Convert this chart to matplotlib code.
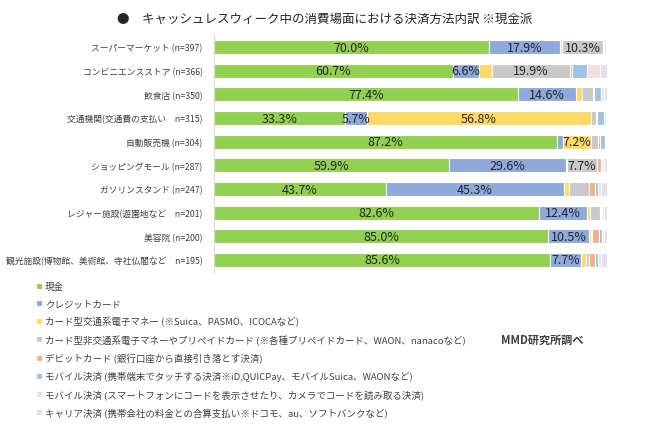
import matplotlib
matplotlib.use('Agg')
import matplotlib.pyplot as plt
import numpy as np

plt.rcParams['font.family'] = ['Noto Sans CJK JP', 'DejaVu Sans']

# categories (top to bottom)
places = ['スーパーマーケット (n=397)', 'コンビニエンスストア (n=366)', '飲食店 (n=350)',
          '交通機関(交通費の支払い　n=315)', '自動販売機 (n=304)', 'ショッピングモール (n=287)',
          'ガソリンスタンド (n=247)', 'レジャー施設(遊園地など　n=201)', '美容院 (n=200)',
          '観光施設(博物館、美術館、寺社仏閣など　n=195)']

methods = ['現金', 'クレジットカード', 'カード型交通系電子マネー (※Suica、PASMO、ICOCAなど)',
           'カード型非交通系電子マネーやプリペイドカード (※各種プリペイドカード、WAON、nanacoなど)',
           'デビットカード (銀行口座から直接引き落とす決済)',
           'モバイル決済 (携帯端末でタッチする決済※iD,QUICPay、モバイルSuica、WAONなど)',
           'モバイル決済 (スマートフォンにコードを表示させたり、カメラでコードを読み取る決済)',
           'キャリア決済 (携帯会社の料金との合算支払い※ドコモ、au、ソフトバンクなど)']

cash    = [70.0, 60.7, 77.4, 33.3, 87.2, 59.9, 43.7, 82.6, 85.0, 85.6]
credit  = [17.9, 6.6, 14.6, 5.7, 1.5, 29.6, 45.3, 12.4, 10.5, 7.7]
transit = [0.7, 3.4, 1.5, 56.8, 7.2, 0.3, 1.3, 0.6, 0.3, 1.4]
prepaid = [10.3, 19.9, 3.0, 1.5, 1.9, 7.7, 5.2, 2.5, 0.4, 0.8]
debit   = [0.2, 0.5, 0.2, 0.2, 0.3, 1.0, 1.3, 0.3, 1.8, 1.3]
mobile  = [0.2, 3.8, 1.8, 1.8, 1.3, 0.2, 1.0, 0.2, 0.8, 0.9]
qrcode  = [0.3, 3.3, 0.8, 0.4, 0.3, 0.5, 0.6, 0.7, 0.4, 0.8]
carrier = [0.4, 1.8, 0.7, 0.3, 0.3, 0.8, 1.6, 0.7, 0.8, 1.5]

series = [cash, credit, transit, prepaid, debit, mobile, qrcode, carrier]
colors = ['#92D050', '#8EA9DB', '#FFD966', '#C9C9C9', '#F4B183', '#9DC3E6', '#F4DEDF', '#E3E0EE']

fig = plt.figure(figsize=(6.5, 4.31), dpi=100)
ax = fig.add_axes([0.329, 0.367, 0.605, 0.549])

y = np.arange(len(places))
left = np.zeros(len(places))
handles = []
for vals, col, name in zip(series, colors, methods):
    vals = np.array(vals)
    b = ax.barh(y, vals, left=left, height=0.58, color=col, edgecolor='white', linewidth=0.8, label=name)
    handles.append(b)
    for yi, (l, v) in enumerate(zip(left, vals)):
        if v > 5.5:
            ax.text(l + v / 2, yi, f'{v:.1f}%', ha='center', va='center', fontsize=9, color='#262626')
    left += vals

ax.set_xlim(0, 100)
ax.set_ylim(len(places) - 0.5, -0.5)
ax.set_yticks(y)
ax.set_yticklabels(places, fontsize=6.3, color='#404040')
ax.tick_params(axis='y', length=0, pad=8)
ax.set_xticks([])
for s in ['top', 'right', 'bottom']:
    ax.spines[s].set_visible(False)
ax.spines['left'].set_color('#D9D9D9')

fig.text(0.5, 0.955, '●　キャッシュレスウィーク中の消費場面における決済方法内訳 ※現金派',
         ha='center', va='center', fontsize=9, color='#262626')

fig.legend(handles=handles, labels=methods, loc='upper left', bbox_to_anchor=(0.05, 0.352),
           frameon=False, fontsize=6.8, handlelength=0.6, handleheight=0.6, handletextpad=0.3,
           labelspacing=0.85, borderaxespad=0, labelcolor='#404040')

fig.text(0.835, 0.21, 'MMD研究所調べ', ha='center', va='center', fontsize=8,
         fontweight='bold', color='#404040')

fig.savefig('out.png', dpi=100)
